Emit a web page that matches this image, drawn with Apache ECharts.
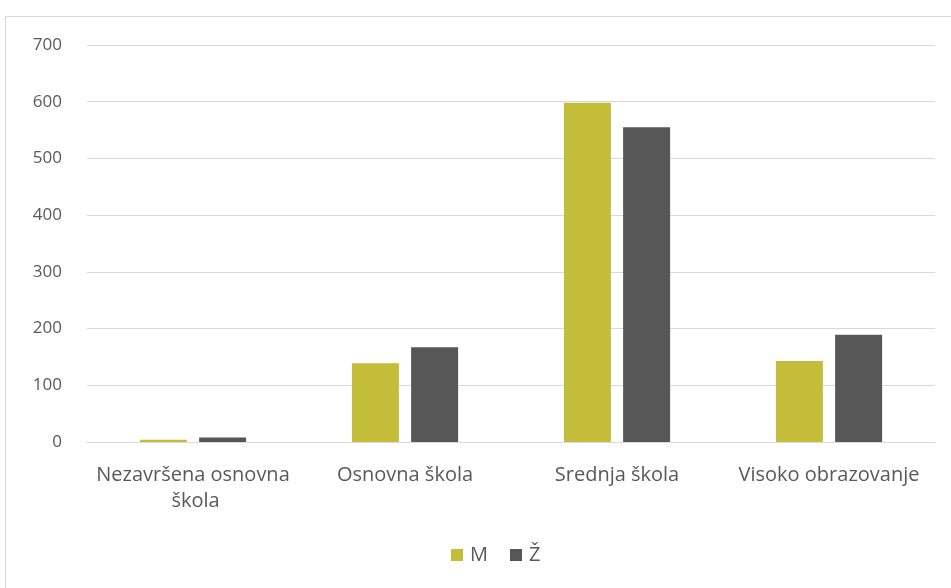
<!DOCTYPE html>
<html><head><meta charset="utf-8">
<script src="https://cdn.jsdelivr.net/npm/echarts@6/dist/echarts.min.js"></script>
<style>html,body{margin:0;padding:0;background:#fff}#c{width:951px;height:588px}</style>
</head><body><div id="c"></div>
<script>
const categories = ["Nezavršena osnovna škola", "Osnovna škola", "Srednja škola", "Visoko obrazovanje"];
const seriesNames = ["M", "Ž"];
const valuesM = [4, 139, 598, 143];
const valuesZ = [8, 167, 555, 189];
const yTicks = [0, 100, 200, 300, 400, 500, 600, 700];

const FONT = '"Open Sans", "Noto Sans", sans-serif';
const chart = echarts.init(document.getElementById('c'), null, {renderer: 'canvas'});
chart.setOption({
  animation: false,
  graphic: [{type: 'rect', shape: {x: 5.5, y: 16.5, width: 960, height: 600}, style: {fill: 'none', stroke: '#d9d9d9', lineWidth: 1}, silent: true}],
  grid: {left: 87, right: 16, top: 45, bottom: 146, containLabel: false},
  legend: {
    data: seriesNames, top: 540, left: 446, itemWidth: 12, itemHeight: 12, itemGap: 22,
    icon: 'rect', textStyle: {color: '#595959', fontSize: 20, fontFamily: FONT, padding: [0, 0, 0, 2]}
  },
  xAxis: {
    type: 'category', data: categories,
    axisLine: {lineStyle: {color: '#d9d9d9'}}, axisTick: {show: false},
    axisLabel: {color: '#595959', fontSize: 20, fontFamily: FONT, margin: 20, width: 208, overflow: 'break', interval: 0, lineHeight: 26}
  },
  yAxis: {
    type: 'value', min: yTicks[0], max: yTicks[yTicks.length - 1], interval: 100,
    axisLine: {show: false}, axisTick: {show: false},
    splitLine: {lineStyle: {color: '#d9d9d9'}},
    axisLabel: {color: '#595959', fontSize: 17, fontFamily: FONT, margin: 25}
  },
  series: [
    {name: seriesNames[0], type: 'bar', data: valuesM, barWidth: 47, barGap: '26%', itemStyle: {color: '#c3bd3a'}},
    {name: seriesNames[1], type: 'bar', data: valuesZ, barWidth: 47, itemStyle: {color: '#575757'}}
  ]
});
</script></body></html>
